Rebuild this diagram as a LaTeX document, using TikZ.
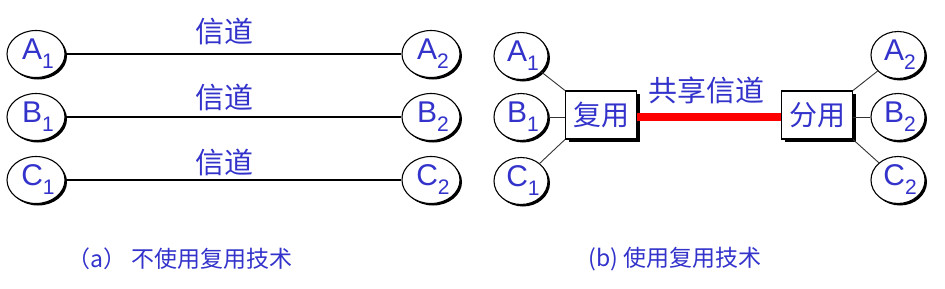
\documentclass[tikz,border=0pt]{standalone}
\usepackage{fontspec}
\setmainfont{Liberation Sans}
\newfontfamily\cjk{Noto Sans CJK SC}
\usetikzlibrary{shapes.geometric,shadows}
\definecolor{txtblue}{RGB}{51,51,204}
\tikzset{
  endpt/.style={ellipse, draw=black, line width=1.1pt, fill=white,
    minimum width=58pt, minimum height=47pt, inner sep=0pt,
    text=txtblue, font=\fontsize{30}{30}\selectfont,
    drop shadow={shadow xshift=2pt, shadow yshift=-2pt, fill=black, opacity=1}},
  muxbox/.style={rectangle, draw=black, line width=1.1pt, fill=white,
    minimum width=71pt, minimum height=48pt, inner sep=0pt,
    text=txtblue, font=\cjk\fontsize{28}{28}\selectfont,
    drop shadow={shadow xshift=3pt, shadow yshift=-3pt, fill=black, opacity=1}},
  chlabel/.style={text=txtblue, font=\cjk\fontsize{29}{29}\selectfont, inner sep=0pt},
  caption/.style={text=txtblue, font=\cjk\fontsize{23}{23}\selectfont, inner sep=0pt},
  chan/.style={draw=black, line width=1.2pt},
  conn/.style={draw=black!80, line width=0.9pt}
}
\newcommand{\lbl}[2]{\hspace*{4pt}#1\raisebox{-0.3em}{\fontsize{21}{21}\selectfont #2}}
\begin{document}
\begin{tikzpicture}[x=1pt,y=-1pt]
\useasboundingbox (0,0) rectangle (945,289);
% (a)
\node[endpt] (a1) at (36,54) {\lbl{A}{1}};
\node[endpt] (b1) at (36,117) {\lbl{B}{1}};
\node[endpt] (c1) at (36,180) {\lbl{C}{1}};
\node[endpt] (a2) at (431,54) {\lbl{A}{2}};
\node[endpt] (b2) at (431,117) {\lbl{B}{2}};
\node[endpt] (c2) at (431,180) {\lbl{C}{2}};
\draw[chan] (a1) -- (a2);
\draw[chan] (b1) -- (b2);
\draw[chan] (c1) -- (c2);
\node[chlabel] (l1) at (224,31) {信道};
\node[chlabel] (l2) at (224,97) {信道};
\node[chlabel] (l3) at (224,162) {信道};
\node[caption] (capa) at (180,259) {（a） 不使用复用技术};
% (b)
\node[endpt, minimum width=54pt] (ra1) at (521,56) {\lbl{A}{1}};
\node[endpt, minimum width=54pt] (rb1) at (521,117) {\lbl{B}{1}};
\node[endpt, minimum width=54pt] (rc1) at (521,181) {\lbl{C}{1}};
\node[endpt, minimum width=54pt] (ra2) at (898,55) {\lbl{A}{2}};
\node[endpt, minimum width=54pt] (rb2) at (898,117) {\lbl{B}{2}};
\node[endpt, minimum width=54pt] (rc2) at (898,180) {\lbl{C}{2}};
\node[muxbox] (mux) at (601,115) {复用};
\node[muxbox] (demux) at (817,115) {分用};
\draw[conn] (ra1) -- (mux.north west);
\draw[conn] (rb1) -- (rb1 -| mux.west);
\draw[conn] (rc1) -- (mux.south west);
\draw[conn] (ra2) -- (demux.north east);
\draw[conn] (rb2) -- (rb2 -| demux.east);
\draw[conn] (rc2) -- (demux.south east);
\draw[red, line width=8pt] (mux.east |- 0,117) -- (demux.west |- 0,117);
\node[chlabel] (shared) at (706,90) {共享信道};
\node[caption] (capb) at (675,259) {(b) 使用复用技术};
\end{tikzpicture}
\end{document}
